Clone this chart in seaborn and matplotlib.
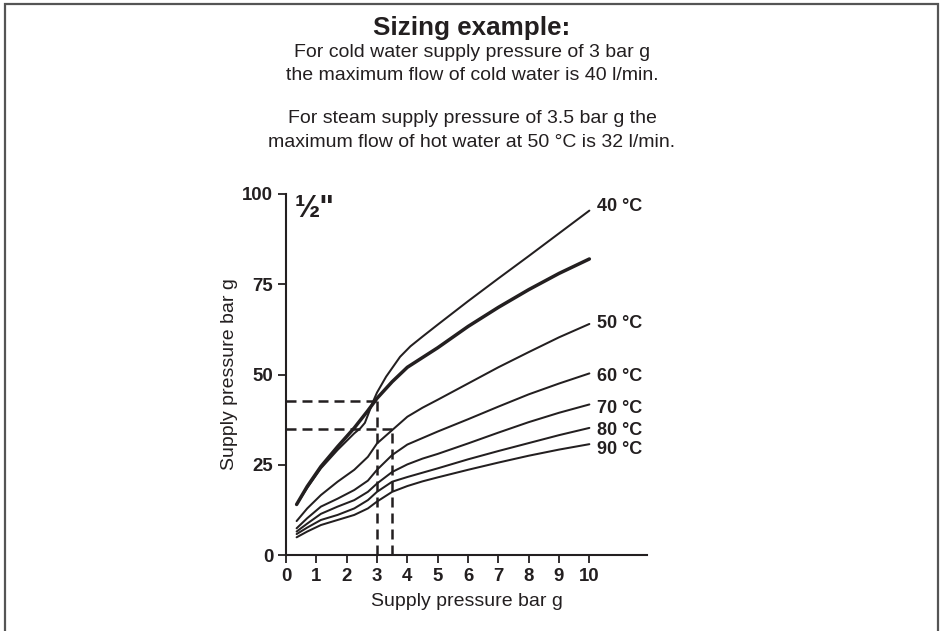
# plot.py - valve sizing chart, 1/2" size

import matplotlib
matplotlib.use("Agg")
import matplotlib.pyplot as plt
import pandas as pd
import seaborn as sns
from matplotlib.patches import Rectangle


# cold water curve (thick, no label)
coldX = [0.35, 0.7, 1.15, 1.7, 2.25, 2.7, 3.0, 3.5, 4.0, 5.0, 6.0, 7.0, 8.0, 9.0, 10.0]
coldY = [14.0, 19.0, 24.5, 30.0, 35.2, 40.0, 43.4, 48.0, 52.0, 57.4, 63.3, 68.6, 73.5, 78.0, 82.0]

# hot water 40 °C (thin, crosses the cold curve near 3 bar)
hot40X = [0.35, 0.7, 1.15, 1.7, 2.25, 2.45, 2.6, 2.72, 2.88, 3.0, 3.3, 3.76, 4.1, 4.5,
          5.0, 6.0, 7.0, 8.0, 9.0, 10.0]
hot40Y = [14.0, 18.6, 24.0, 29.1, 33.7, 35.1, 36.6, 39.2, 42.7, 45.0, 49.4, 54.9, 57.8, 60.5,
          63.8, 70.3, 76.6, 82.8, 89.1, 95.4]

# the other hot water curves share one x grid
hotX = [0.35, 0.7, 1.15, 1.7, 2.25, 2.7, 3.0, 3.5, 4.0, 4.5, 5.0, 6.0, 7.0, 8.0, 9.0, 10.0]
hot50Y = [9.4, 12.9, 16.6, 20.3, 23.6, 27.2, 30.9, 34.6, 38.3, 40.8, 43.0, 47.5, 52.0, 56.2, 60.3, 64.0]
hot60Y = [7.4, 10.2, 13.4, 15.6, 18.0, 20.6, 23.6, 27.7, 30.6, 32.4, 34.2, 37.6, 41.1, 44.5, 47.5, 50.3]
hot70Y = [6.5, 8.7, 11.4, 13.4, 15.2, 17.5, 19.8, 23.0, 25.1, 26.7, 28.0, 30.9, 33.9, 36.8, 39.4, 41.7]
hot80Y = [5.8, 7.6, 9.7, 11.1, 12.9, 15.2, 17.5, 20.3, 21.6, 22.8, 24.0, 26.5, 28.8, 31.0, 33.2, 35.2]
hot90Y = [4.9, 6.5, 8.3, 9.7, 11.1, 12.9, 14.8, 17.5, 19.1, 20.4, 21.5, 23.6, 25.6, 27.5, 29.2, 30.7]

curveLabels = ["40 °C", "50 °C", "60 °C", "70 °C", "80 °C", "90 °C"]

# sizing example read-offs (supply pressure, value on y axis)
coldExample = (3.0, 42.7)
steamExample = (3.5, 34.8)

xTicks = [0, 1, 2, 3, 4, 5, 6, 7, 8, 9, 10]
yTicks = [0, 25, 50, 75, 100]

titleText = "Sizing example:"
noteLines = [
    "For cold water supply pressure of 3 bar g",
    "the maximum flow of cold water is 40 l/min.",
    "For steam supply pressure of 3.5 bar g the",
    "maximum flow of hot water at 50 °C is 32 l/min.",
]

ink = "#231f20"


def makeCurve(xs, ys):
    return pd.DataFrame({"pressure": xs, "value": ys})


def main():
    sns.set_theme(style="white")
    plt.rcParams["font.family"] = ["Liberation Sans", "DejaVu Sans"]

    fig = plt.figure(figsize=(9.41, 6.31), dpi=100)
    W, H = 941, 631
    ax = fig.add_axes([286 / W, (H - 555) / H, 361 / W, 361 / H])

    # curves
    sns.lineplot(data=makeCurve(coldX, coldY), x="pressure", y="value", ax=ax,
                 color=ink, linewidth=2.5, sort=False, estimator=None)
    hotCurves = [(hot40X, hot40Y), (hotX, hot50Y), (hotX, hot60Y),
                 (hotX, hot70Y), (hotX, hot80Y), (hotX, hot90Y)]
    labelNudge = [1.1, 0.0, -0.9, -1.1, -0.6, -1.5]
    for (xs, ys), label, nudge in zip(hotCurves, curveLabels, labelNudge):
        sns.lineplot(data=makeCurve(xs, ys), x="pressure", y="value", ax=ax,
                     color=ink, linewidth=1.45, sort=False, estimator=None)
        ax.text(xs[-1] + 0.24, ys[-1] + nudge, label, ha="left", va="center",
                fontsize=13, fontweight="bold", color=ink)

    # dashed read-off lines
    for px, py in [coldExample, steamExample]:
        ax.plot([0, px], [py, py], color=ink, linewidth=1.8, linestyle=(0, (4, 2.4)))
        ax.plot([px, px], [0, py], color=ink, linewidth=1.8, linestyle=(0, (4, 2.4)))

    ax.set_xlim(0, 11.9)
    ax.set_ylim(0, 100)
    ax.set_xticks(xTicks)
    ax.set_yticks(yTicks)
    ax.set_xticklabels([str(t) for t in xTicks])
    ax.set_yticklabels([str(t) for t in yTicks])
    for lbl in ax.get_xticklabels() + ax.get_yticklabels():
        lbl.set_fontweight("bold")
    ax.tick_params(axis="both", direction="out", length=6, width=1.3, color=ink,
                   labelsize=13.4, labelcolor=ink, pad=3.2, left=True, bottom=True)

    for side in ["top", "right"]:
        ax.spines[side].set_visible(False)
    for side in ["left", "bottom"]:
        ax.spines[side].set_linewidth(1.5)
        ax.spines[side].set_color(ink)

    ax.set_xlabel("Supply pressure bar g", fontsize=14, color=ink, va="center")
    ax.set_ylabel("Supply pressure bar g", fontsize=14, color=ink, va="center")
    ax.xaxis.set_label_coords(0.5, -(602 - 555) / 361)
    ax.yaxis.set_label_coords(-(286 - 229) / 361, 0.5)

    ax.text(0.3, 100, '½"', ha="left", va="top", fontsize=22,
            fontweight="bold", color=ink)

    # heading block
    cx = 472 / W
    fig.text(cx, 1 - 35 / H, titleText, ha="center", va="baseline",
             fontsize=18.7, fontweight="bold", color=ink)
    for line, base in zip(noteLines, [57, 80, 123, 147]):
        fig.text(cx, 1 - base / H, line, ha="center", va="baseline",
                 fontsize=14, color=ink)

    # frame round the figure (open at the bottom)
    fig.add_artist(Rectangle((5 / W, -0.1), (938 - 5) / W, (H - 4) / H + 0.1,
                             transform=fig.transFigure, fill=False,
                             linewidth=1.6, edgecolor="#555555"))

    fig.savefig("out.png", dpi=100)
    plt.close(fig)


if __name__ == "__main__":
    main()
